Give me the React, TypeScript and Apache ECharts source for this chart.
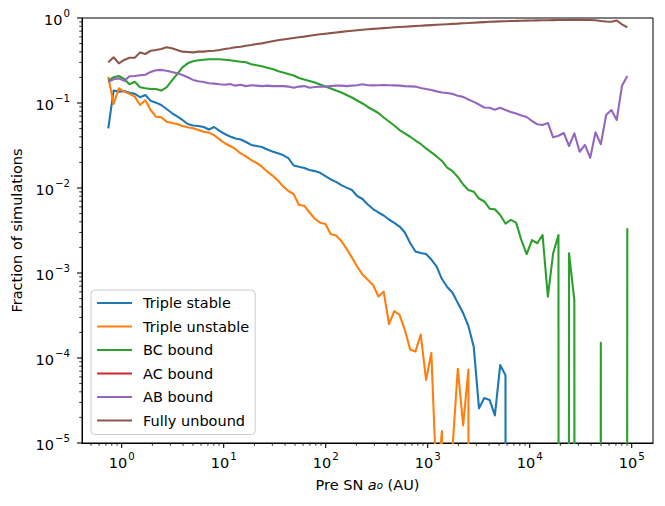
import React, { useEffect, useRef } from 'react';
import * as echarts from 'echarts';

// Pre-SN outer semi-major axis (AU), one value per bin
const preSnA = [
  0.739, 0.833, 0.938, 1.058, 1.192, 1.343, 1.514, 1.706, 1.923, 2.167,
  2.442, 2.752, 3.102, 3.496, 3.94, 4.44, 5.004, 5.639, 6.355, 7.162,
  8.072, 9.097, 10.25, 11.55, 13.02, 14.68, 16.54, 18.64, 21.01, 23.68,
  26.68, 30.07, 33.89, 38.19, 43.04, 48.51, 54.67, 61.61, 69.44, 78.25,
  88.19, 99.39, 112.0, 126.2, 142.3, 160.3, 180.7, 203.6, 229.5, 258.6,
  291.5, 328.5, 370.2, 417.2, 470.2, 529.9, 597.2, 673.0, 758.5, 854.8,
  963.3, 1086, 1224, 1379, 1554, 1752, 1974, 2225, 2507, 2826,
  3184, 3589, 4045, 4558, 5137, 5789, 6524, 7353, 8286, 9339,
  10525, 11861, 13367, 15065, 16978, 19134, 21564, 24302, 27388, 30866,
  34786, 39204, 44183, 49794, 56118, 63245, 71277, 80329, 90530,
];

const tripleStable = [
  0.0504, 0.14, 0.136, 0.138, 0.132, 0.128, 0.117, 0.124, 0.106, 0.101,
  0.0947, 0.085, 0.0762, 0.0694, 0.0631, 0.0566, 0.0544, 0.0536, 0.0522, 0.0488,
  0.0522, 0.0469, 0.0432, 0.0404, 0.0382, 0.0372, 0.0348, 0.0321, 0.0312, 0.0303,
  0.0284, 0.0269, 0.0256, 0.0244, 0.0225, 0.0184, 0.0178, 0.0172, 0.0163, 0.0158,
  0.0151, 0.0138, 0.0126, 0.0118, 0.0108, 0.0101, 0.00947, 0.00805, 0.00743, 0.0064,
  0.00566, 0.00515, 0.00475, 0.00426, 0.00388, 0.00352, 0.00299, 0.00225, 0.00179, 0.00172,
  0.00167, 0.00144, 0.00119, 0.000849, 0.000684, 0.000586, 0.000444, 0.000338, 0.000238, 0.000136,
  0.0000256, 0.0000338, 0.0000321, 0.0000211, 0.0000828, 0.0000625, 0, 0, 0, 0,
  0, 0, 0, 0, 0, 0, 0, 0, 0, 0,
  0, 0, 0, 0, 0, 0, 0, 0, 0,
];

const tripleUnstable = [
  0.204, 0.0973, 0.149, 0.136, 0.128, 0.119, 0.0947, 0.108, 0.0827, 0.069,
  0.0679, 0.0603, 0.0582, 0.0566, 0.0536, 0.0518, 0.0504, 0.0481, 0.0459, 0.0448,
  0.0417, 0.0374, 0.0336, 0.0312, 0.0288, 0.0255, 0.0235, 0.0213, 0.0197, 0.0178,
  0.0156, 0.014, 0.0123, 0.0105, 0.00922, 0.0085, 0.00631, 0.00619, 0.00515, 0.00435,
  0.00391, 0.00377, 0.00288, 0.00276, 0.00238, 0.00192, 0.00152, 0.00119, 0.00096, 0.000832,
  0.000723, 0.00053, 0.000603, 0.000251, 0.000357, 0.000321, 0.000213, 0.000126, 0.000119, 0.000189,
  0.0000551, 0.000115, 0.000003, 0.0000138, 0, 0.000009, 0.0000748, 0.0000161, 0.0000732, 0,
  0, 0, 0, 0, 0, 0, 0, 0, 0, 0,
  0, 0, 0, 0, 0, 0, 0, 0, 0, 0,
  0, 0, 0, 0, 0, 0, 0, 0, 0,
];

const bcBound = [
  0.183, 0.201, 0.208, 0.192, 0.166, 0.178, 0.153, 0.149, 0.146, 0.146,
  0.14, 0.153, 0.183, 0.219, 0.263, 0.293, 0.31, 0.318, 0.323, 0.327,
  0.327, 0.327, 0.323, 0.318, 0.312, 0.306, 0.301, 0.285, 0.278, 0.27,
  0.26, 0.251, 0.238, 0.229, 0.219, 0.211, 0.197, 0.189, 0.182, 0.174,
  0.165, 0.156, 0.148, 0.14, 0.133, 0.124, 0.116, 0.107, 0.0987, 0.0898,
  0.0827, 0.0762, 0.0675, 0.0606, 0.0544, 0.0481, 0.0438, 0.0401, 0.0362, 0.033,
  0.0292, 0.0262, 0.0235, 0.0208, 0.0174, 0.0158, 0.0135, 0.011, 0.00947, 0.00904,
  0.00752, 0.00694, 0.00571, 0.00561, 0.00481, 0.00382, 0.00421, 0.00391, 0.00244, 0.00167,
  0.00244, 0.00224, 0.0028, 0.000526, 0.00171, 0.0028, 0, 0.00171, 0.000481, 0,
  0, 0, 0, 0.000151, 0, 0, 0, 0, 0.00336,
];

const acBound = [
  0, 0, 0, 0, 0, 0, 0, 0, 0, 0,
  0, 0, 0, 0, 0, 0, 0, 0, 0, 0,
  0, 0, 0, 0, 0, 0, 0, 0, 0, 0,
  0, 0, 0, 0, 0, 0, 0, 0, 0, 0,
  0, 0, 0, 0, 0, 0, 0, 0, 0, 0,
  0, 0, 0, 0, 0, 0, 0, 0, 0, 0,
  0, 0, 0, 0, 0, 0, 0, 0, 0, 0,
  0, 0, 0, 0, 0, 0, 0, 0, 0, 0,
  0, 0, 0, 0, 0, 0, 0, 0, 0, 0,
  0, 0, 0, 0, 0, 0, 0, 0, 0,
];

const abBound = [
  0.178, 0.19, 0.195, 0.182, 0.206, 0.208, 0.212, 0.215, 0.232, 0.243,
  0.245, 0.24, 0.232, 0.224, 0.214, 0.201, 0.187, 0.18, 0.177, 0.171,
  0.169, 0.166, 0.164, 0.167, 0.16, 0.164, 0.158, 0.162, 0.16, 0.158,
  0.16, 0.158, 0.158, 0.158, 0.156, 0.151, 0.156, 0.158, 0.151, 0.154,
  0.156, 0.156, 0.158, 0.16, 0.16, 0.158, 0.16, 0.162, 0.166, 0.162,
  0.161, 0.162, 0.163, 0.162, 0.161, 0.16, 0.158, 0.157, 0.156, 0.15,
  0.146, 0.142, 0.137, 0.133, 0.131, 0.128, 0.122, 0.118, 0.11, 0.103,
  0.0959, 0.0886, 0.0881, 0.0835, 0.0881, 0.0827, 0.0784, 0.0752, 0.0713, 0.0684,
  0.0614, 0.0562, 0.0551, 0.0582, 0.0395, 0.0412, 0.0444, 0.0312, 0.044, 0.0267,
  0.0321, 0.0227, 0.0452, 0.0327, 0.0722, 0.0827, 0.0631, 0.16, 0.208,
];

const fullyUnbound = [
  0.301, 0.345, 0.293, 0.321, 0.341, 0.341, 0.394, 0.377, 0.412, 0.42,
  0.432, 0.452, 0.44, 0.42, 0.402, 0.398, 0.394, 0.402, 0.402, 0.409,
  0.412, 0.42, 0.432, 0.44, 0.452, 0.459, 0.472, 0.481, 0.494, 0.503,
  0.518, 0.532, 0.547, 0.558, 0.569, 0.582, 0.593, 0.604, 0.618, 0.631,
  0.643, 0.654, 0.664, 0.675, 0.686, 0.698, 0.709, 0.719, 0.728, 0.736,
  0.744, 0.752, 0.76, 0.769, 0.777, 0.784, 0.79, 0.798, 0.805, 0.812,
  0.818, 0.825, 0.832, 0.839, 0.846, 0.852, 0.859, 0.869, 0.873, 0.88,
  0.888, 0.895, 0.902, 0.907, 0.912, 0.917, 0.922, 0.924, 0.929, 0.932,
  0.935, 0.937, 0.94, 0.942, 0.945, 0.947, 0.947, 0.947, 0.952, 0.95,
  0.947, 0.947, 0.94, 0.922, 0.91, 0.905, 0.935, 0.843, 0.777,
];

const seriesNames = ['Triple stable', 'Triple unstable', 'BC bound', 'AC bound', 'AB bound', 'Fully unbound'];
const seriesValues = [tripleStable, tripleUnstable, bcBound, acBound, abBound, fullyUnbound];
const seriesColors = ['#1f77b4', '#ff7f0e', '#2ca02c', '#d62728', '#9467bd', '#8c564b'];

const xMajorTicks = [1, 10, 100, 1000, 10000, 100000];
const yMajorTicks = [1e-5, 1e-4, 1e-3, 1e-2, 1e-1, 1];

const X_MIN = 0.4082;
const X_MAX = 161700;
const Y_MIN = 1e-5;
const Y_MAX = 1;
const ZERO_CLIP = 1e-100; // stands in for 0 on the log axis (like matplotlib's clipping)
const FONT = 'DejaVu Sans';

function powerLabel(v: number): string {
  const l = Math.log10(v);
  const e = Math.round(l);
  if (Math.abs(l - e) > 1e-6) return '';
  const s = e < 0 ? '\u2212' + String(-e) : String(e);
  return '{b|10}{s|' + s + '}';
}

const labelRich = {
  b: { fontSize: 14.5, lineHeight: 23, fontFamily: FONT, color: '#000' },
  s: { fontSize: 10.2, lineHeight: 11, verticalAlign: 'top', fontFamily: FONT, color: '#000', padding: [0, 0, 0, 1] },
};

function buildTicks() {
  const out: number[][] = [];
  for (const v of xMajorTicks) out.push([v, Y_MIN, 0]);
  for (let k = -1; k <= 5; k++) {
    for (let m = 2; m <= 9; m++) {
      const v = m * Math.pow(10, k);
      if (v > X_MIN && v < X_MAX) out.push([v, Y_MIN, 1]);
    }
  }
  for (const v of yMajorTicks) out.push([X_MIN, v, 2]);
  for (let k = -5; k <= -1; k++) {
    for (let m = 2; m <= 9; m++) out.push([X_MIN, m * Math.pow(10, k), 3]);
  }
  return out;
}

export default function App() {
  const ref = useRef<HTMLDivElement>(null);
  useEffect(() => {
    document.body.style.margin = '0';
    if (!ref.current) return;
    const chart = echarts.init(ref.current, null, { renderer: 'svg' });

    const lineSeries = seriesNames.map((name, si) => ({
      name,
      type: 'line',
      data: preSnA.map((x, i) => [x, seriesValues[si][i] > 0 ? seriesValues[si][i] : ZERO_CLIP]),
      showSymbol: false,
      symbol: 'none',
      color: seriesColors[si],
      lineStyle: { color: seriesColors[si], width: 2.1, join: 'round', cap: 'butt' },
      itemStyle: { color: seriesColors[si] },
      clip: true,
      silent: true,
      z: 2,
    }));

    const tickSeries = {
      type: 'custom',
      name: 'ticks',
      data: buildTicks(),
      encode: { x: 0, y: 1 },
      clip: false,
      silent: true,
      z: 5,
      renderItem: (params: any, api: any) => {
        const kind = api.value(2);
        const p = api.coord([api.value(0), api.value(1)]);
        const major = kind === 0 || kind === 2;
        const len = major ? 4.9 : 2.8;
        const lw = major ? 1.1 : 0.8;
        const shape = kind < 2
          ? { x1: p[0], y1: p[1], x2: p[0], y2: p[1] + len }
          : { x1: p[0] - len, y1: p[1], x2: p[0], y2: p[1] };
        return { type: 'line', shape, style: { stroke: '#000', lineWidth: lw } };
      },
    };

    chart.setOption({
      animation: false,
      textStyle: { fontFamily: FONT },
      grid: {
        left: 82, right: 12, top: 18, bottom: 63,
        show: true, borderColor: '#000', borderWidth: 1, backgroundColor: '#fff',
        containLabel: false,
      },
      legend: {
        data: seriesNames,
        orient: 'vertical',
        left: 91,
        top: 290,
        itemWidth: 35,
        itemHeight: 16,
        itemGap: 7.5,
        padding: [5, 6, 6, 5],
        backgroundColor: 'rgba(255,255,255,0.8)',
        borderColor: '#cccccc',
        borderWidth: 1,
        borderRadius: 4,
        selectedMode: false,
        itemStyle: { opacity: 0 },
        lineStyle: { width: 2.1 },
        textStyle: { fontFamily: FONT, fontSize: 14.5, lineHeight: 16, color: '#000', padding: [0, 0, 0, 6] },
      },
      xAxis: {
        type: 'log',
        logBase: 10,
        min: X_MIN,
        max: X_MAX,
        axisLine: { show: true, lineStyle: { color: '#000', width: 1 } },
        axisTick: { show: false },
        minorTick: { show: false },
        splitLine: { show: false },
        axisLabel: {
          interval: 0,
          margin: 4,
          padding: [4.3, 0, 0, 0],
          formatter: powerLabel,
          rich: labelRich,
        },
        name: '{n|Pre SN }{i|a}{sub|o}{n| (AU)}',
        nameLocation: 'middle',
        nameGap: 33,
        nameTextStyle: {
          rich: {
            n: { fontSize: 14.5, lineHeight: 18, fontFamily: FONT, color: '#000' },
            i: { fontSize: 14.5, lineHeight: 18, fontStyle: 'italic', fontFamily: FONT, color: '#000' },
            sub: { fontSize: 10.2, lineHeight: 5, fontStyle: 'italic', fontFamily: FONT, color: '#000' },
          },
        },
      },
      yAxis: {
        type: 'log',
        logBase: 10,
        min: Y_MIN,
        max: Y_MAX,
        axisLine: { show: true, lineStyle: { color: '#000', width: 1 } },
        axisTick: { show: false },
        minorTick: { show: false },
        splitLine: { show: false },
        axisLabel: {
          interval: 0,
          margin: 12,
          padding: [4.3, 0, 0, 0],
          formatter: powerLabel,
          rich: labelRich,
        },
        name: 'Fraction of simulations',
        nameLocation: 'middle',
        nameGap: 55,
        nameTextStyle: { fontSize: 14.5, fontFamily: FONT, color: '#000' },
      },
      series: [...lineSeries, tickSeries],
    });

    return () => chart.dispose();
  }, []);

  return <div ref={ref} style={{ width: 665, height: 506 }} />;
}
